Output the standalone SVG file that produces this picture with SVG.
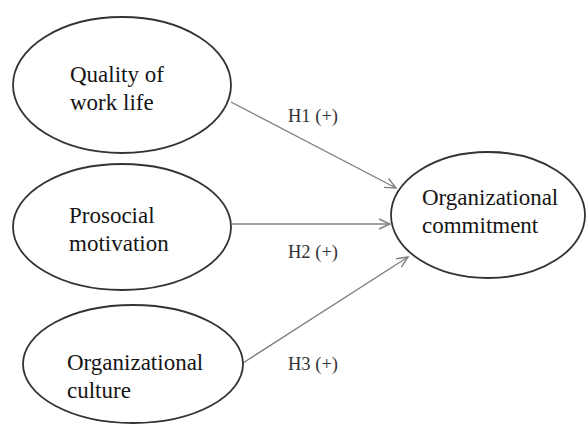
<svg xmlns="http://www.w3.org/2000/svg" width="586" height="425" viewBox="0 0 586 425">
<style>
.node{fill:#fff;stroke:#333;stroke-width:1.8}
.t{font-family:"Liberation Serif","Times New Roman",serif;font-size:23px;fill:#151515}
.lbl{font-family:"Liberation Serif","Times New Roman",serif;font-size:18.5px;fill:#333}
.edge{stroke:#808080;stroke-width:1.4;fill:none;marker-end:url(#arr)}
</style>
<defs>
<marker id="arr" markerWidth="14" markerHeight="12" refX="12" refY="6" orient="auto" markerUnits="userSpaceOnUse">
<path d="M1,1 L12,6 L1,11" fill="none" stroke="#808080" stroke-width="1.4"/>
</marker>
</defs>
<rect width="586" height="425" fill="#fff"/>
<g id="connectors">
<line class="edge" x1="231" y1="102" x2="396" y2="188"/>
<line class="edge" x1="232" y1="224" x2="390" y2="224"/>
<line class="edge" x1="243" y1="363" x2="408" y2="257"/>
<text class="lbl" x="288" y="122">H1 (+)</text>
<text class="lbl" x="288" y="258">H2 (+)</text>
<text class="lbl" x="288" y="370">H3 (+)</text>
</g>
<g id="quality">
<ellipse class="node" cx="122" cy="85" rx="109" ry="68"/>
<text class="t" x="70" y="82">Quality of</text>
<text class="t" x="70" y="110">work life</text>
</g>
<g id="prosocial">
<ellipse class="node" cx="122" cy="227" rx="109" ry="63"/>
<text class="t" x="69" y="223">Prosocial</text>
<text class="t" x="69" y="251">motivation</text>
</g>
<g id="culture">
<ellipse class="node" cx="133" cy="364" rx="110" ry="59"/>
<text class="t" x="67" y="370">Organizational</text>
<text class="t" x="67" y="398">culture</text>
</g>
<g id="commitment">
<ellipse class="node" cx="488" cy="215" rx="97" ry="63"/>
<text class="t" x="422" y="205">Organizational</text>
<text class="t" x="422" y="233">commitment</text>
</g>
</svg>
